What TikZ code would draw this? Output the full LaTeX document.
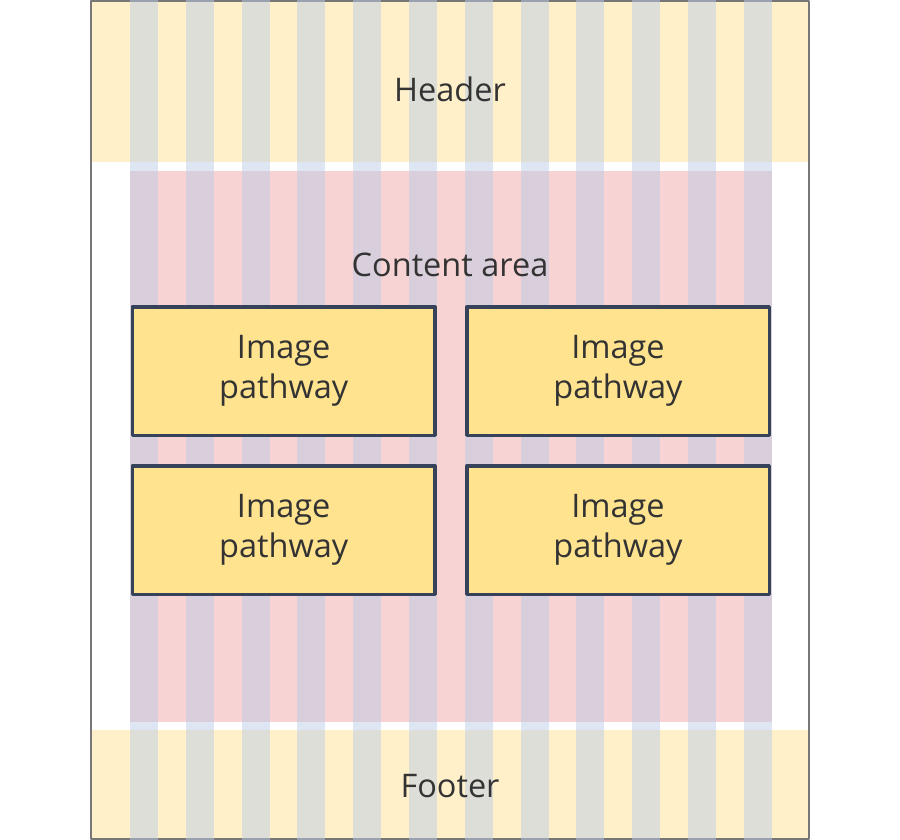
\documentclass[tikz,border=0pt]{standalone}
\usepackage{fontspec}
\setmainfont{Open Sans}
\definecolor{frameline}{HTML}{777777}
\definecolor{bandyellow}{HTML}{FFF0C9}
\definecolor{contentpink}{HTML}{F8D3D3}
\definecolor{gridblue}{HTML}{BCCDE6}
\definecolor{boxfill}{HTML}{FFE38E}
\definecolor{boxline}{HTML}{36425A}
\definecolor{labeltext}{HTML}{333333}
\tikzset{
  label/.style={text=labeltext, font=\fontsize{32.5}{40}\selectfont},
  pathway/.style={label, draw=boxline, line width=3.5pt, fill=boxfill, align=center,
    minimum width=302.5pt, minimum height=128.5pt, inner sep=0pt}
}
\begin{document}
\begin{tikzpicture}[x=1pt, y=-1pt, line join=round]
                \def\colw{28} \def\colstep{55.8} \def\ncols{11}
                \useasboundingbox (0,0) rectangle (900,840);
                % header, content area, footer
                \fill[bandyellow] (92,2) rectangle (808,162.5);
                \fill[contentpink] (130,171.5) rectangle (772,722);
                \fill[bandyellow] (92,729.5) rectangle (808,838);
                \draw[frameline, line width=2pt] (91,1) rectangle (809,839);
                % twelve columns
                \foreach \i in {0,...,\ncols}
                  \fill[gridblue, opacity=0.5] (130+\i*\colstep,0) rectangle ++(\colw,840);
                \node[label] (header) at (450,89) {Header};
                \node[label] (content) at (450,265) {Content area};
                \node[label] (footer) at (450,786) {Footer};
                \node[pathway] (pw11) at (283.7,371) {Image\\pathway};
                \node[pathway] (pw12) at (618,371) {Image\\pathway};
                \node[pathway] (pw21) at (283.7,530) {Image\\pathway};
                \node[pathway] (pw22) at (618,530) {Image\\pathway};
            \end{tikzpicture}
\end{document}
